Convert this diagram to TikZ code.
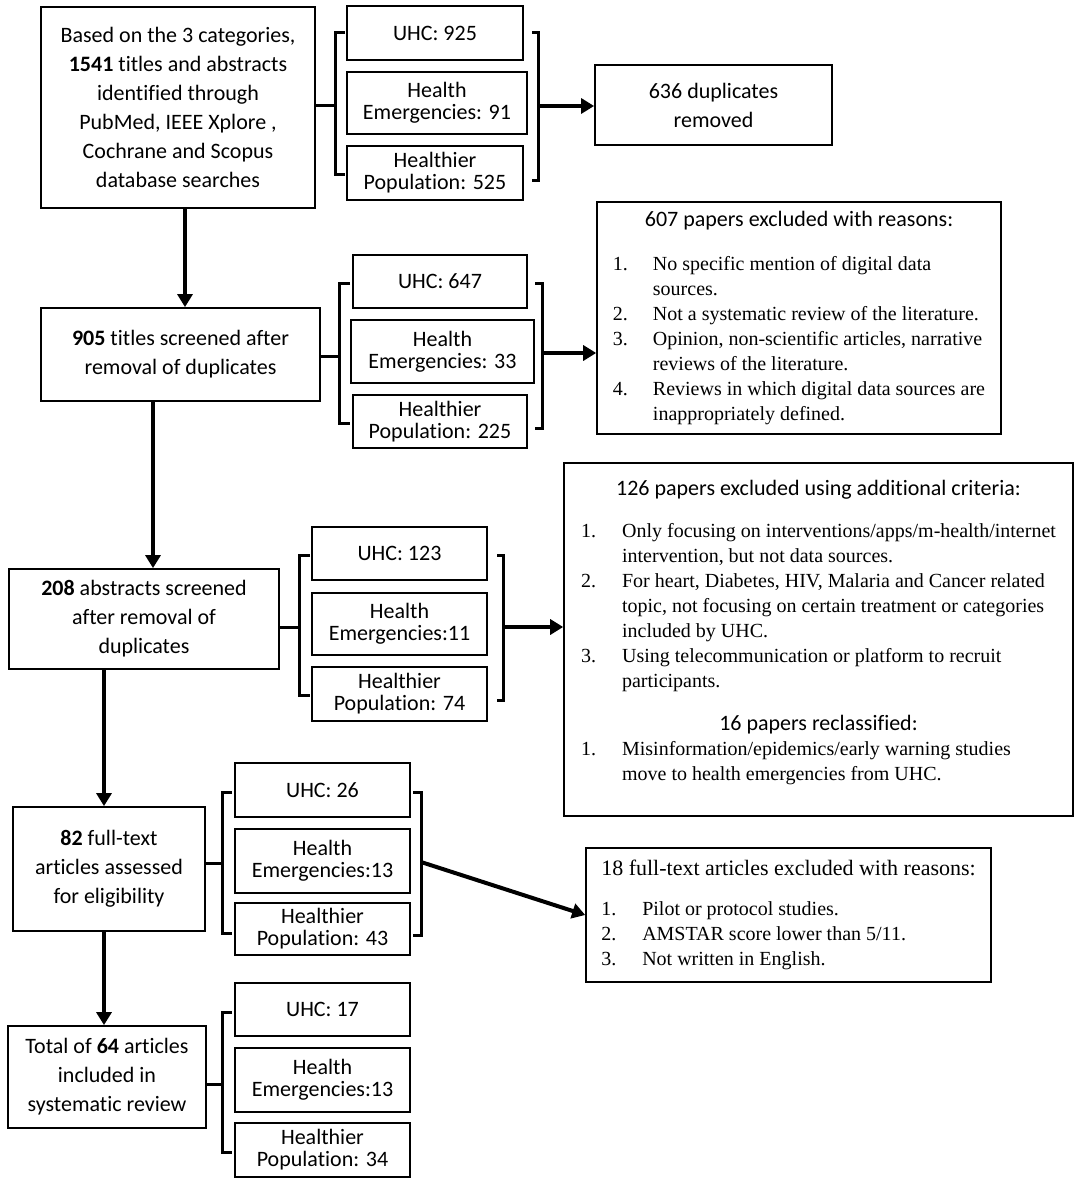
\documentclass[tikz,border=0pt]{standalone}
\usepackage{fontspec}
\setmainfont{Carlito}[Ligatures=NoCommon]
\newfontfamily\calfont{Carlito}[Ligatures=NoCommon]
\newfontfamily\timfont{Liberation Serif}
\usetikzlibrary{positioning,arrows.meta}

\begin{document}
\begin{tikzpicture}[
      x=1pt, y=-1pt,
      mainbox/.style={draw, line width=1.8pt, align=center, inner sep=0pt,
                      font=\calfont\fontsize{22}{29}\selectfont},
      catbox/.style={draw, line width=1.8pt, align=center, inner sep=0pt,
                     font=\calfont\fontsize{22}{22}\selectfont},
      exbox/.style={draw, line width=1.6pt, align=left, inner sep=0pt,
                    font=\timfont\fontsize{20}{25}\selectfont},
      brk/.style={line width=3pt},
      arr/.style={line width=4pt, -{Triangle[length=13pt,width=15pt]}}
    ]
    \useasboundingbox (0,0) rectangle (1084,1188);
    % ------------- Stage 1: search -------------
    \node[mainbox, minimum width=274pt, minimum height=201pt] (src) at (178,107.5)
      {Based on the 3 categories,\\\textbf{1541} titles and abstracts\\identified through\\PubMed, IEEE Xplore ,\\Cochrane and Scopus\\database searches};
    \node[catbox, minimum width=176pt, minimum height=54pt] (u1) at (435,33) {UHC: 925};
    \node[catbox, minimum width=180pt, minimum height=62pt] (e1) at (437,103) {Health\\Emergencies: 91};
    \node[catbox, minimum width=176pt, minimum height=54pt] (p1) at (435,173) {Healthier\\Population: 525};
    \node[mainbox, minimum width=237pt, minimum height=80pt] (dup) at (713.5,105) {636 duplicates\\removed};
    \coordinate (lb1) at (335,106);
    \coordinate (rb1) at (538,106);
    \draw[brk] (345,33) -| (335,174) -- (345,174);
    \draw[brk] (532,33) -| (538,180) -- (532,180);
    \draw[brk] (src.east |- lb1) -- (lb1);
    \draw[arr] (rb1) -- (rb1 -| dup.west);
    % ------------- Stage 2: titles -------------
    \node[mainbox, minimum width=279pt, minimum height=93pt] (scr) at (180.5,354.5)
      {\textbf{905} titles screened after\\removal of duplicates};
    \coordinate (a1) at (185,0);
    \draw[arr] (src.south -| a1) -- (scr.north -| a1);
    \node[catbox, minimum width=174pt, minimum height=53pt] (u2) at (440,281.5) {UHC: 647};
    \node[catbox, minimum width=183pt, minimum height=63pt] (e2) at (442.5,351.5) {Health\\Emergencies: 33};
    \node[catbox, minimum width=174pt, minimum height=53pt] (p2) at (440,421.5) {Healthier\\Population: 225};
    \node[exbox, minimum width=404pt, minimum height=232pt] (ex1) at (799,318) {%
      \begin{tabular}{@{}p{40pt}@{}l@{}}
        \multicolumn{2}{c}{\calfont\fontsize{22}{25}\selectfont 607 papers excluded with reasons:}\\[19pt]
        1. & No specific mention of digital data\\
           & sources.\\
        2. & Not a systematic review of the literature.\\
        3. & Opinion, non-scientific articles, narrative\\
           & reviews of the literature.\\
        4. & Reviews in which digital data sources are\\
           & inappropriately defined.
      \end{tabular}};
    \coordinate (lb2) at (339,356);
    \coordinate (rb2) at (542,353);
    \draw[brk] (350,283) -| (339,423) -- (350,423);
    \draw[brk] (535,283) -| (542,428) -- (535,428);
    \draw[brk] (scr.east |- lb2) -- (lb2);
    \draw[arr] (rb2) -- (rb2 -| ex1.west);
    % ------------- Stage 3: abstracts -------------
    \node[mainbox, minimum width=270pt, minimum height=100pt] (abs) at (144,619)
      {\textbf{208} abstracts screened\\after removal of\\duplicates};
    \coordinate (a2) at (153,0);
    \draw[arr] (scr.south -| a2) -- (abs.north -| a2);
    \node[catbox, minimum width=175pt, minimum height=53pt] (u3) at (399.5,553.5) {UHC: 123};
    \node[catbox, minimum width=175pt, minimum height=62pt] (e3) at (399.5,624) {Health\\Emergencies:11};
    \node[catbox, minimum width=175pt, minimum height=54pt] (p3) at (399.5,694) {Healthier\\Population: 74};
    \node[exbox, minimum width=509pt, minimum height=353pt] (ex2) at (818.5,639.5) {%
      \begin{tabular}{@{}p{41pt}@{}l@{}}
        \multicolumn{2}{c}{\calfont\fontsize{22}{25}\selectfont 126 papers excluded using additional criteria:}\\[17pt]
        1. & Only focusing on interventions/apps/m-health/internet\\
           & intervention, but not data sources.\\
        2. & For heart, Diabetes, HIV, Malaria and Cancer related\\
           & topic, not focusing on certain treatment or categories\\
           & included by UHC.\\
        3. & Using telecommunication or platform to recruit\\
           & participants.\\[18pt]
        \multicolumn{2}{c}{\calfont\fontsize{22}{25}\selectfont 16 papers reclassified:}\\
        1. & Misinformation/epidemics/early warning studies\\
           & move to health emergencies from UHC.\\[14pt]
      \end{tabular}};
    \coordinate (lb3) at (299,627);
    \coordinate (rb3) at (503,627);
    \draw[brk] (310,555) -| (299,695) -- (310,695);
    \draw[brk] (497,555) -| (503,700) -- (497,700);
    \draw[brk] (abs.east |- lb3) -- (lb3);
    \draw[arr] (rb3) -- (rb3 -| ex2.west);
    % ------------- Stage 4: full text -------------
    \node[mainbox, minimum width=192pt, minimum height=124pt] (ft) at (109,869)
      {\textbf{82} full-text\\articles assessed\\for eligibility};
    \coordinate (a3) at (104,0);
    \draw[arr] (abs.south -| a3) -- (ft.north -| a3);
    \node[catbox, minimum width=175pt, minimum height=54pt] (u4) at (322.5,790) {UHC: 26};
    \node[catbox, minimum width=175pt, minimum height=64pt] (e4) at (322.5,861) {Health\\Emergencies:13};
    \node[catbox, minimum width=175pt, minimum height=52pt] (p4) at (322.5,929) {Healthier\\Population: 43};
    \node[exbox, minimum width=405pt, minimum height=134pt] (ex3) at (788.5,915) {%
      \begin{tabular}{@{}p{41pt}@{}l@{}}
        \multicolumn{2}{@{}l@{}}{\fontsize{22}{25}\selectfont 18 full-text articles excluded with reasons:}\\[15pt]
        1. & Pilot or protocol studies.\\
        2. & AMSTAR score lower than 5/11.\\
        3. & Not written in English.
      \end{tabular}};
    \coordinate (lb4) at (222,863);
    \coordinate (rb4) at (421,862);
    \draw[brk] (232,792) -| (222,933) -- (232,933);
    \draw[brk] (413,792) -| (421,935) -- (413,935);
    \draw[brk] (ft.east |- lb4) -- (lb4);
    \draw[arr] (rb4) -- (ex3.west);
    % ------------- Stage 5: included -------------
    \node[mainbox, minimum width=198pt, minimum height=102pt] (tot) at (107,1077)
      {Total of \textbf{64} articles\\included in\\systematic review};
    \draw[arr] (ft.south -| a3) -- (tot.north -| a3);
    \node[catbox, minimum width=175pt, minimum height=53pt] (u5) at (322.5,1009.5) {UHC: 17};
    \node[catbox, minimum width=175pt, minimum height=64pt] (e5) at (322.5,1080) {Health\\Emergencies:13};
    \node[catbox, minimum width=175pt, minimum height=54pt] (p5) at (322.5,1150) {Healthier\\Population: 34};
    \coordinate (lb5) at (222,1084);
    \draw[brk] (232,1012) -| (222,1152) -- (232,1152);
    \draw[brk] (tot.east |- lb5) -- (lb5);
  \end{tikzpicture}
\end{document}
